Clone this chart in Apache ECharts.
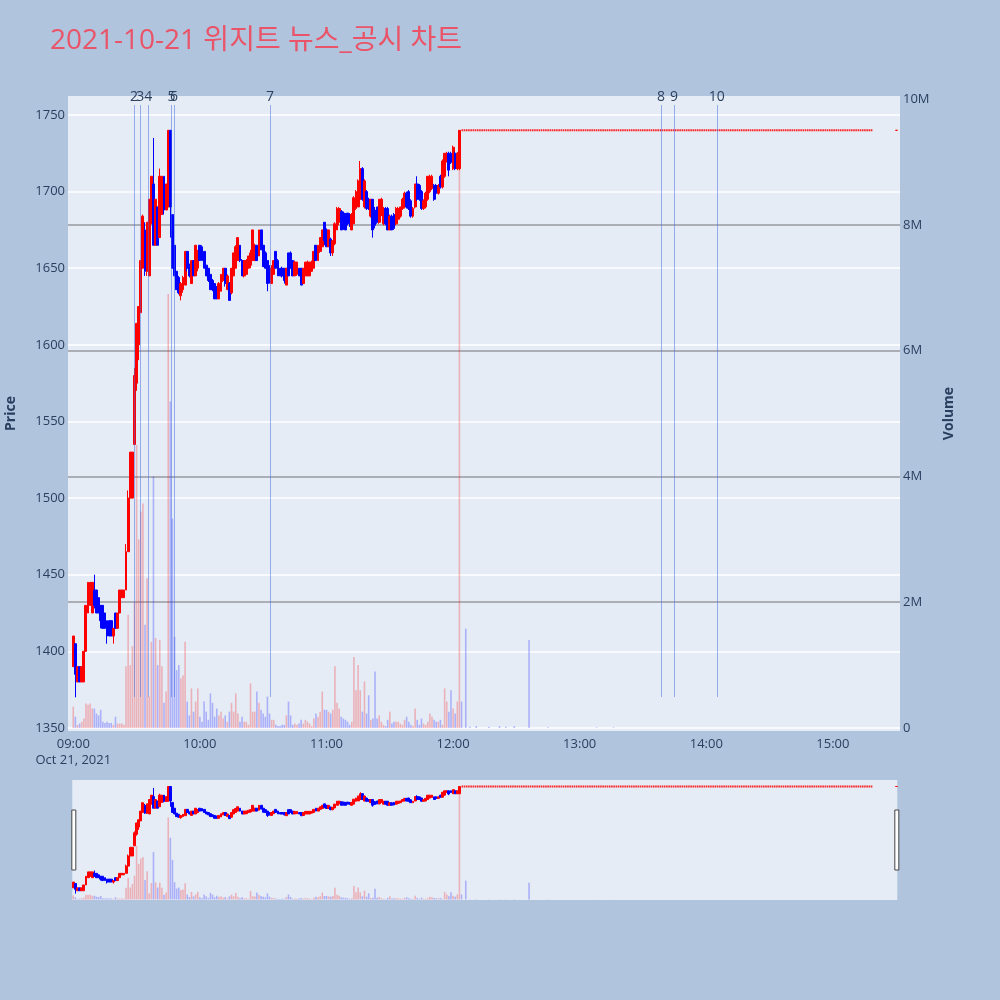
<!DOCTYPE html>
<html><head><meta charset="utf-8">
<script src="https://cdn.jsdelivr.net/npm/echarts@6/dist/echarts.min.js"></script>
<style>html,body{margin:0;padding:0;background:#B0C4DE}#c{width:1000px;height:1000px}</style>
</head><body><div id="c"></div>
<script>
// ---------------- data ----------------
const chartTitle = '2021-10-21 위지트 뉴스_공시 차트';
const sessionStart = '09:00';          // first 1-minute candle
// [open, close, low, high], one candle per minute from 09:00
const ohlc = [
[1390,1410,1390,1410],[1405,1385,1370,1405],[1380,1390,1380,1390],[1390,1380,1380,1390],[1380,1390,1380,1390],
[1380,1400,1380,1400],[1400,1430,1400,1430],[1425,1445,1425,1445],[1430,1445,1430,1445],[1425,1445,1425,1445],
[1440,1430,1428,1450],[1440,1425,1425,1440],[1435,1425,1425,1435],[1430,1420,1415,1430],[1430,1415,1415,1430],
[1425,1415,1415,1425],[1420,1410,1405,1420],[1420,1410,1410,1420],[1420,1410,1410,1420],[1410,1415,1405,1415],
[1425,1415,1415,1425],[1415,1425,1415,1425],[1425,1440,1425,1440],[1435,1440,1435,1440],[1435,1440,1435,1440],
[1440,1465,1440,1470],[1465,1500,1465,1505],[1500,1530,1500,1530],[1500,1530,1500,1530],[1535,1580,1535,1585],
[1575,1614,1570,1614],[1600,1625,1590,1625],[1621,1655,1621,1655],[1650,1684,1650,1685],[1675,1648,1645,1680],
[1648,1680,1645,1680],[1645,1695,1645,1695],[1679,1710,1679,1710],[1705,1665,1665,1735],[1665,1695,1665,1695],
[1690,1665,1665,1690],[1670,1710,1670,1715],[1685,1710,1685,1710],[1710,1688,1685,1710],[1688,1705,1688,1705],
[1690,1740,1688,1740],[1740,1690,1670,1740],[1685,1650,1650,1685],[1665,1645,1645,1665],[1648,1636,1636,1648],
[1644,1634,1633,1645],[1632,1640,1629,1641],[1636,1644,1634,1645],[1639,1661,1639,1661],[1661,1650,1648,1661],
[1652,1645,1644,1653],[1640,1655,1640,1655],[1655,1645,1645,1655],[1645,1665,1645,1665],[1650,1660,1648,1662],
[1665,1655,1655,1665],[1664,1655,1655,1665],[1661,1650,1650,1661],[1652,1645,1645,1653],[1650,1642,1641,1650],
[1646,1636,1636,1646],[1642,1636,1635,1643],[1640,1630,1630,1640],[1638,1630,1630,1638],[1630,1640,1630,1641],
[1635,1646,1635,1646],[1642,1650,1641,1650],[1650,1640,1638,1650],[1636,1645,1636,1646],[1640,1629,1629,1641],
[1634,1650,1633,1650],[1645,1660,1645,1660],[1650,1664,1650,1665],[1655,1670,1655,1670],[1665,1655,1654,1665],
[1655,1645,1645,1656],[1645,1655,1644,1655],[1646,1655,1646,1656],[1650,1658,1650,1658],[1652,1660,1650,1662],
[1655,1675,1655,1675],[1655,1665,1655,1666],[1665,1655,1655,1665],[1658,1675,1658,1675],[1675,1662,1662,1675],
[1665,1651,1651,1666],[1660,1650,1650,1661],[1655,1640,1635,1655],[1650,1642,1640,1652],[1640,1650,1640,1652],
[1646,1655,1646,1655],[1661,1650,1650,1661],[1655,1645,1645,1656],[1650,1645,1645,1650],[1650,1645,1644,1651],
[1650,1642,1640,1650],[1639,1650,1639,1650],[1660,1645,1645,1660],[1660,1650,1650,1661],[1655,1645,1645,1655],
[1645,1654,1645,1655],[1646,1654,1645,1654],[1650,1645,1645,1650],[1650,1639,1639,1650],[1640,1650,1640,1650],
[1645,1654,1645,1654],[1645,1654,1645,1655],[1645,1654,1645,1654],[1648,1654,1648,1655],[1650,1661,1650,1661],
[1665,1655,1655,1665],[1655,1665,1655,1665],[1661,1670,1660,1670],[1664,1675,1664,1675],[1680,1668,1665,1680],
[1675,1664,1664,1676],[1664,1675,1664,1675],[1669,1660,1658,1670],[1660,1668,1658,1668],[1666,1679,1665,1680],
[1675,1689,1675,1690],[1680,1689,1678,1690],[1687,1675,1675,1688],[1686,1676,1675,1687],[1685,1675,1675,1686],
[1686,1680,1678,1686],[1685,1679,1677,1686],[1675,1685,1675,1686],[1679,1696,1679,1697],[1689,1700,1688,1701],
[1690,1707,1690,1708],[1695,1715,1694,1720],[1715,1695,1694,1716],[1690,1707,1689,1708],[1700,1689,1688,1701],
[1695,1689,1688,1696],[1684,1695,1683,1695],[1695,1675,1670,1695],[1688,1678,1676,1690],[1690,1680,1679,1690],
[1680,1695,1679,1695],[1685,1695,1684,1696],[1679,1689,1678,1690],[1689,1679,1678,1690],[1689,1675,1675,1690],
[1675,1684,1675,1685],[1684,1675,1675,1685],[1685,1676,1675,1686],[1679,1689,1678,1690],[1682,1689,1681,1690],
[1684,1690,1683,1690],[1689,1695,1688,1696],[1690,1699,1689,1700],[1699,1690,1689,1700],[1700,1689,1688,1701],
[1694,1684,1683,1695],[1684,1689,1683,1690],[1690,1705,1689,1705],[1705,1695,1694,1710],[1704,1695,1694,1705],
[1700,1689,1688,1701],[1689,1694,1688,1695],[1690,1699,1689,1700],[1695,1710,1694,1710],[1700,1710,1699,1711],
[1702,1710,1701,1711],[1704,1695,1694,1705],[1704,1699,1698,1705],[1699,1704,1698,1705],[1710,1703,1702,1711],
[1703,1720,1702,1721],[1710,1725,1709,1725],[1720,1725,1719,1726],[1725,1714,1710,1726],[1725,1719,1718,1726],
[1715,1729,1714,1730],[1725,1715,1714,1726],[1715,1725,1714,1726],[1715,1740,1714,1740]
];
// volume (millions), one per candle above
const volume = [
0.34,0.18,0.05,0.07,0.1,0.15,0.39,0.37,0.39,0.31,
0.31,0.23,0.2,0.29,0.1,0.08,0.1,0.08,0.08,0.05,
0.18,0.07,0.07,0.07,0.05,0.98,1.8,1.0,1.3,2.0,
4.5,3.0,3.44,3.57,1.64,2.38,0.5,1.37,4.0,1.43,
1.0,1.4,0.98,0.4,0.58,6.9,5.19,3.33,1.45,0.92,
1.0,0.79,0.84,1.37,0.42,0.2,0.63,0.26,0.42,0.63,
0.18,0.1,0.42,0.26,0.13,0.55,0.4,0.18,0.31,0.2,
0.26,0.15,0.2,0.1,0.26,0.4,0.26,0.55,0.23,0.1,
0.18,0.1,0.1,0.05,0.71,0.26,0.26,0.58,0.4,0.29,
0.23,0.18,0.5,0.23,0.13,0.13,0.05,0.03,0.03,0.05,
0.05,0.2,0.42,0.2,0.05,0.07,0.05,0.07,0.13,0.07,
0.13,0.1,0.07,0.03,0.15,0.23,0.18,0.26,0.58,0.29,
0.29,0.26,0.23,0.29,0.98,0.4,0.31,0.18,0.15,0.13,
0.1,0.05,0.1,1.13,0.6,1.0,0.6,0.26,0.74,0.23,
0.52,0.13,0.15,0.9,0.15,0.2,0.1,0.05,0.03,0.13,
0.26,0.07,0.1,0.1,0.1,0.07,0.05,0.13,0.18,0.1,
0.05,0.03,0.31,0.13,0.05,0.15,0.07,0.05,0.1,0.23,
0.18,0.13,0.1,0.1,0.13,0.05,0.63,0.42,0.26,0.6,
0.31,0.23,0.42,9.5
];
// flat price after 12:03 (single-price period), drawn as a dotted segment
const flatTimes = ['12:04', '15:19'];
const flatPrices = [1740, 1740];
const closeTime = '15:30';
const closeOhlc = [1740, 1740, 1740, 1740];
// volume during the flat period
const lateVolTimes = ['12:04','12:06','12:08','12:11','12:17','12:22','12:25','12:29','12:36','12:45','13:08','13:16'];
const lateVol      = [0.42, 1.58, 0.02, 0.03, 0.02, 0.03, 0.02, 0.03, 1.4, 0.01, 0.01, 0.01];
// news / disclosure markers
const newsTimes  = ['09:28:48','09:31:45','09:35:30','09:46:36','09:47:42','10:33:12','13:38:30','13:44:42','14:05:00'];
const newsLabels = ['2','3','4','5','6','7','8','9','10'];
// axis ticks
const timeTicks = ['09:00','10:00','11:00','12:00','13:00','14:00','15:00'];
const dateLabel = 'Oct 21, 2021';

// ---------------- helpers ----------------
function ts(s) { const p = s.split(':').map(Number); return new Date(2021, 9, 21, p[0], p[1], p[2] || 0).getTime(); }
const t0 = ts(sessionStart);
const MIN = 60000;
const UP = '#ff0000', DOWN = '#0000ff';
const UPV = 'rgba(255,0,0,0.25)', DOWNV = 'rgba(0,0,255,0.25)';
const FONT = "'Open Sans', 'Noto Sans CJK KR', sans-serif";
const TXT = '#2a3f5f';

const candleData = ohlc.map((d, i) => [t0 + i * MIN, d[0], d[1], d[2], d[3]]);
candleData.push([ts(closeTime)].concat(closeOhlc));
const volData = volume.map((v, i) => ({ value: [t0 + i * MIN, v], itemStyle: { color: ohlc[i][1] >= ohlc[i][0] ? UPV : DOWNV } }));
lateVolTimes.forEach((t, i) => volData.push({ value: [ts(t), lateVol[i]], itemStyle: { color: DOWNV } }));
const flatData = flatTimes.map((t, i) => [ts(t), flatPrices[i]]);
const tickValues = timeTicks.map(ts);

const priceMin = 1348, priceMax = 1762.4;
const mainXMin = ts('08:57:30'), mainXMax = ts('15:31:48');
const sliderXMin = candleData[0][0] - MIN / 2, sliderXMax = candleData[candleData.length - 1][0] + MIN / 2;

const newsLines = newsTimes.map((t, i) => [
  { coord: [ts(t), 1370.2], name: newsLabels[i] },
  { coord: [ts(t), 1756.5] }
]);

function fmtTime(v) {
  const d = new Date(v);
  const s = String(d.getHours()).padStart(2, '0') + ':' + String(d.getMinutes()).padStart(2, '0');
  return (d.getHours() === 9 && d.getMinutes() === 0) ? s + '\n' + dateLabel : s;
}

const candleStyle = { color: UP, color0: DOWN, borderColor: UP, borderColor0: DOWN, borderWidth: 1 };

const chart = echarts.init(document.getElementById('c'), null, { renderer: 'canvas' });
chart.setOption({
  animation: false,
  backgroundColor: '#B0C4DE',
  textStyle: { fontFamily: FONT },
  title: {
    text: chartTitle, left: 45, top: 22,
    textStyle: { fontFamily: FONT, fontSize: 28, fontWeight: 'normal', color: '#EA5468' }
  },
  grid: [
    { left: 68, right: 100, top: 96, height: 635, show: true, backgroundColor: '#E5ECF6', borderWidth: 0, outerBoundsMode: 'none' },
    { left: 68, right: 100, top: 99, height: 629, show: false, outerBoundsMode: 'none' },
    { left: 72.25, right: 102.75, top: 780, height: 120, show: true, backgroundColor: '#E5ECF6', borderWidth: 0, outerBoundsMode: 'none' }
  ],
  xAxis: [
    { type: 'value', gridIndex: 0, min: mainXMin, max: mainXMax, scale: true,
      axisLine: { show: false }, axisTick: { show: false }, splitLine: { show: false },
      axisLabel: { customValues: tickValues, formatter: fmtTime, color: TXT, fontSize: 13, fontFamily: FONT,
        margin: 5, lineHeight: 16, hideOverlap: false } },
    { type: 'value', gridIndex: 1, min: mainXMin, max: mainXMax, scale: true, show: false, splitLine: { show: false } },
    { type: 'value', gridIndex: 2, min: sliderXMin, max: sliderXMax, scale: true, show: false, splitLine: { show: false } }
  ],
  yAxis: [
    { type: 'value', gridIndex: 0, min: priceMin, max: priceMax, minInterval: 50, maxInterval: 50, splitNumber: 8,
      axisLine: { show: false }, axisTick: { show: false },
      splitLine: { show: true, showMinLine: false, showMaxLine: false, lineStyle: { color: '#ffffff', width: 1.5 } },
      axisLabel: { color: TXT, fontSize: 13, fontFamily: FONT, margin: 3, showMinLabel: false, showMaxLabel: false,
        formatter: v => String(v) },
      name: 'Price', nameLocation: 'middle', nameGap: 50,
      nameTextStyle: { color: TXT, fontSize: 14, fontWeight: 'bold', fontFamily: FONT } },
    { type: 'value', gridIndex: 1, position: 'right', min: 0, max: 10, interval: 2,
      axisLine: { show: false }, axisTick: { show: false },
      splitLine: { show: true, showMinLine: false, showMaxLine: false, lineStyle: { color: 'rgba(90,90,90,0.55)', width: 1.5 } },
      axisLabel: { color: TXT, fontSize: 13, fontFamily: FONT, margin: 3, formatter: v => v === 0 ? '0' : v + 'M' },
      name: 'Volume', nameLocation: 'middle', nameGap: 42,
      nameTextStyle: { color: TXT, fontSize: 14, fontWeight: 'bold', fontFamily: FONT } },
    { type: 'value', gridIndex: 2, min: priceMin, max: priceMax, show: false, splitLine: { show: false } },
    { type: 'value', gridIndex: 2, min: -0.048, max: 10.048, show: false, splitLine: { show: false } }
  ],
  dataZoom: [{
    type: 'slider', xAxisIndex: [0, 1], filterMode: 'none', start: 0, end: 100,
    left: 72.25, right: 102.75, top: 780, height: 120,
    backgroundColor: 'rgba(0,0,0,0)', borderColor: 'rgba(0,0,0,0)', fillerColor: 'rgba(0,0,0,0)',
    showDataShadow: false, showDetail: false, brushSelect: false, moveHandleSize: 0,
    moveHandleStyle: { opacity: 0 },
    dataBackground: { lineStyle: { opacity: 0 }, areaStyle: { opacity: 0 } },
    selectedDataBackground: { lineStyle: { opacity: 0 }, areaStyle: { opacity: 0 } },
    handleIcon: 'path://M0,0H4V60H0Z', handleSize: '50%',
    handleStyle: { color: '#ffffff', borderColor: '#444', borderWidth: 1 },
    emphasis: { handleStyle: { color: '#ffffff', borderColor: '#444', borderWidth: 1 }, moveHandleStyle: { opacity: 0 } },
    z: 10
  }],
  series: [
    { type: 'bar', name: 'vol', xAxisIndex: 1, yAxisIndex: 1, data: volData, barWidth: 1.6, z: 1, silent: true },
    { type: 'candlestick', name: 'price', xAxisIndex: 0, yAxisIndex: 0, data: candleData,
      encode: { x: 0, y: [1, 2, 3, 4] }, barWidth: 2.4, itemStyle: candleStyle, z: 3,
      markLine: { silent: true, symbol: ['none', 'none'], animation: false,
        lineStyle: { color: 'rgba(65,105,225,0.5)', width: 1, type: 'solid' },
        label: { show: true, position: 'end', formatter: '{b}', color: TXT, fontSize: 14, fontFamily: FONT, distance: 1 },
        emphasis: { disabled: true },
        data: newsLines } },
    { type: 'line', name: 'flat', xAxisIndex: 0, yAxisIndex: 0, data: flatData, symbol: 'none', z: 3,
      lineStyle: { color: 'rgba(255,0,0,0.85)', width: 2, type: [1.6, 0.6] } },
    { type: 'bar', name: 'vol2', xAxisIndex: 2, yAxisIndex: 3, data: volData, barWidth: 1.6, z: 1, silent: true },
    { type: 'candlestick', name: 'price2', xAxisIndex: 2, yAxisIndex: 2, data: candleData,
      encode: { x: 0, y: [1, 2, 3, 4] }, barWidth: 2.4, itemStyle: candleStyle, z: 3, silent: true },
    { type: 'line', name: 'flat2', xAxisIndex: 2, yAxisIndex: 2, data: flatData, symbol: 'none', z: 3, silent: true,
      lineStyle: { color: 'rgba(255,0,0,0.85)', width: 2, type: [1.6, 0.6] } }
  ]
});
</script></body></html>
